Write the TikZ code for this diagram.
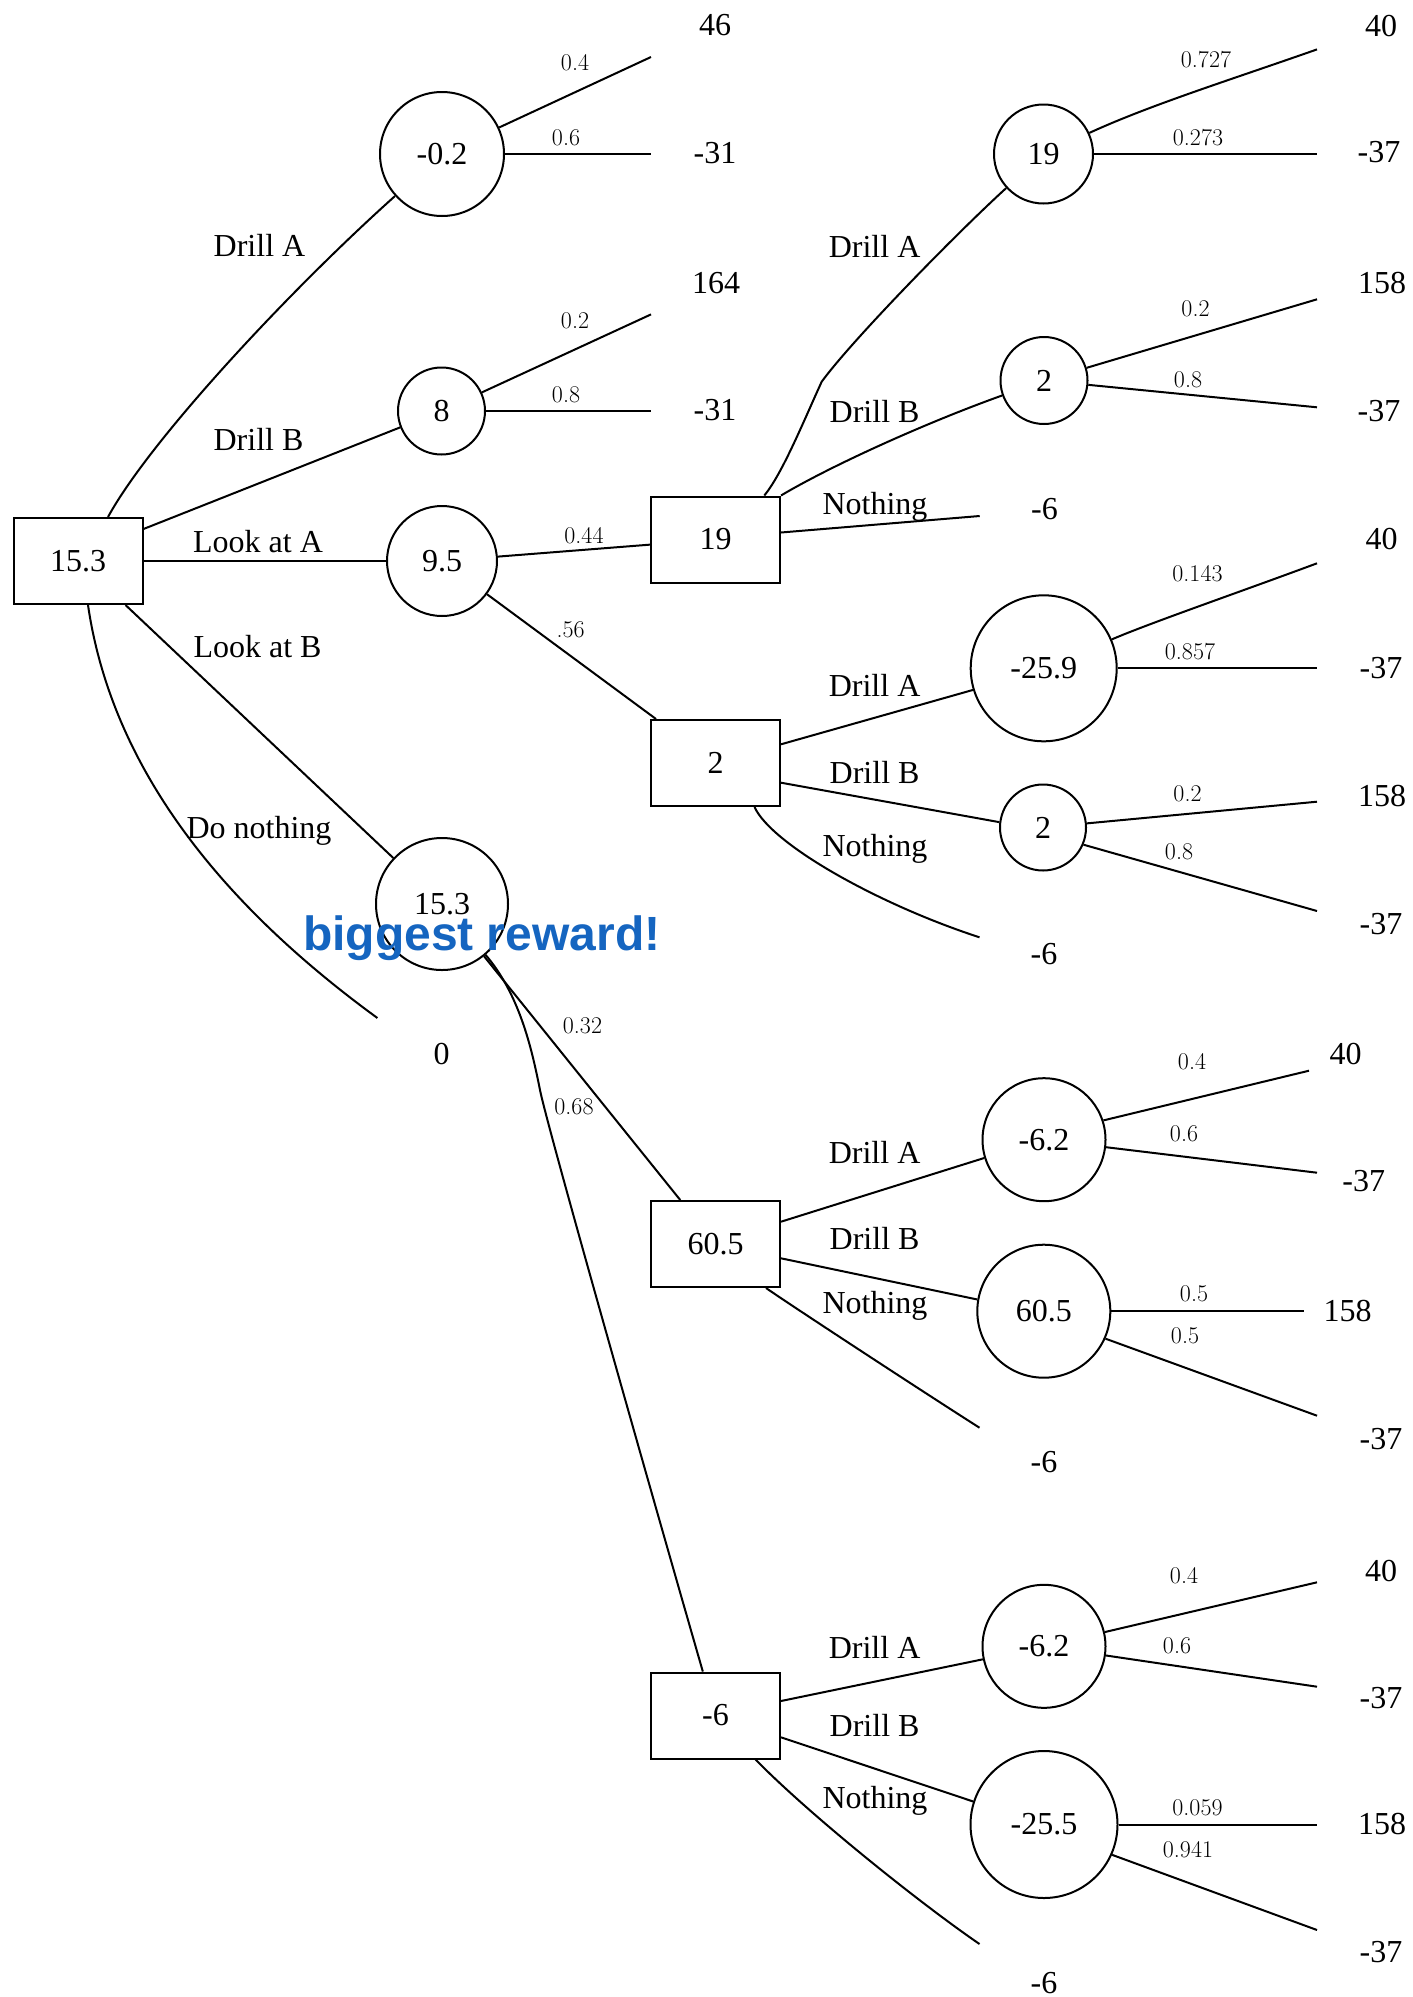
\documentclass[tikz,border=0pt]{standalone}
\usepackage{fontspec}
\setmainfont{Liberation Serif}
\newfontfamily\probfont{Latin Modern Roman}
\newfontfamily\notefont{Liberation Sans}
\definecolor{notecolor}{RGB}{21,101,192}
\begin{document}
\begin{tikzpicture}[x=1pt,y=-1pt,line width=2pt,
  every node/.style={inner sep=0pt},
  txt/.style={font=\fontsize{32}{38}\selectfont},
  decision/.style={txt,draw,rectangle,minimum width=129pt,minimum height=86pt},
  chance/.style={txt,draw,circle,minimum size=#1},
  act/.style={txt,anchor=base},
  val/.style={txt},
  prob/.style={font=\probfont\fontsize{24}{28}\selectfont}]
\useasboundingbox (0,0) rectangle (1413,1997);

% ---------- decision nodes ----------
\node[decision] (root) at (78,561) {15.3};
\node[decision] (b19)  at (715.5,539.5) {19};
\node[decision] (b2)   at (715.5,763) {2};
\node[decision] (b605) at (715.5,1244) {60.5};
\node[decision] (bm6)  at (715.5,1715.5) {-6};

% ---------- chance nodes ----------
\node[chance=124pt] (cA)   at (442,154)      {-0.2};
\node[chance=87pt]  (cB)   at (441.5,411)    {8};
\node[chance=110pt] (cLA)  at (442,561)      {9.5};
\node[chance=132pt] (cLB)  at (442,904)      {15.3};
\node[chance=99pt]  (c19)  at (1043.5,154)   {19};
\node[chance=87pt]  (c2a)  at (1044,380.5)   {2};
\node[chance=146pt] (c259) at (1043.7,668.3) {-25.9};
\node[chance=86pt]  (c2b)  at (1043,827.5)   {2};
\node[chance=123pt] (c62a) at (1044,1139.7)  {-6.2};
\node[chance=133pt] (c605) at (1043.8,1311.2){60.5};
\node[chance=123pt] (c62b) at (1044,1646.3)  {-6.2};
\node[chance=147pt] (c255) at (1044,1824.5)  {-25.5};

% ---------- free ends of outcome branches ----------
\coordinate (eNone) at (377.4,1018);
\coordinate (eA1) at (651,57);      \coordinate (eA2) at (651,154);
\coordinate (eB1) at (651,314.4);   \coordinate (eB2) at (651,411);
\coordinate (e19n) at (979.7,516);
\coordinate (b19bend) at (821.7,381.7);
\coordinate (e19a) at (1317,49.4);  \coordinate (e19b) at (1317,154);
\coordinate (e2a1) at (1317,299.3); \coordinate (e2a2) at (1317,407.3);
\coordinate (e2n) at (979.5,937.3);
\coordinate (e259a) at (1317,563.3);\coordinate (e259b) at (1317,668.3);
\coordinate (e2b1) at (1317,801.7); \coordinate (e2b2) at (1317,911);
\coordinate (lbBend) at (540,1090);
\coordinate (e605n) at (979.5,1427.7);
\coordinate (e62a1) at (1309,1070.7);\coordinate (e62a2) at (1317,1172.7);
\coordinate (e605a) at (1303.5,1311.2);\coordinate (e605b) at (1317,1415.7);
\coordinate (e6n) at (979.5,1944);
\coordinate (e62b1) at (1317,1582.3);\coordinate (e62b2) at (1317,1686.7);
\coordinate (e255a) at (1317,1824.5);\coordinate (e255b) at (1317,1930);

% ---------- first decision ----------
\draw ([xshift=-35.5pt]root.north east) .. controls (150,440) and (290,290) .. (cA);
\draw ([yshift=-12pt]root.north east) -- (cB);
\draw (root) -- (cLA);
\draw ([xshift=-18pt]root.south east) -- (cLB);
\draw ([xshift=10pt]root.south) .. controls (115,790) and (250,925) .. (eNone);

\node[act] at (259.5,256)   {Drill A};
\node[act] at (258.5,450)   {Drill B};
\node[act] at (258,552.4)   {Look at A};
\node[act] at (257.5,657)   {Look at B};
\node[act] at (259,838)     {Do nothing};

% drill A / drill B right away
\draw (cA) -- (eA1);  \draw (cA) -- (eA2);
\draw (cB) -- (eB1);  \draw (cB) -- (eB2);
\node[prob] at (575,63)    {0.4};
\node[prob] at (566,138)   {0.6};
\node[prob] at (575,321)   {0.2};
\node[prob] at (566,394.6) {0.8};
\node[val] at (715,25)   {46};
\node[val] at (715,153)  {-31};
\node[val] at (716,283)  {164};
\node[val] at (715,410)  {-31};
\node[val] at (441.5,1054.3) {0};

% look at A
\draw (cLA) -- (b19);
\draw (cLA) -- (b2);
\node[prob] at (584,535.5) {0.44};
\node[prob] at (570.7,630) {.56};

% look at B
\draw (cLB) -- (b605);
\draw (cLB) .. controls (520,995) and (532,1050) .. (lbBend)
            .. controls (548,1130) and (662,1530) .. (bm6);
\node[prob] at (582.5,1025.6) {0.32};
\node[prob] at (574,1107)     {0.68};

% ---------- decision 19 ----------
\draw ([xshift=-16.7pt]b19.north east) .. controls (782.5,473.6) and (804.9,418.1) .. (b19bend)
      .. controls (851.2,341.2) and (953.8,235.9) .. (c19);
\draw (b19.north east) .. controls (831.6,465.4) and (926.3,422.6) .. (c2a);
\draw ([yshift=7pt]b19.east) -- (e19n);
\node[act] at (874.6,257.8) {Drill A};
\node[act] at (874.6,422)   {Drill B};
\node[act] at (875,514)     {Nothing};
\node[val] at (1044.5,509.5) {-6};

\draw (c19) .. controls (1150,105) and (1230,80) .. (e19a);
\draw (c19) -- (e19b);
\node[prob] at (1206,60)  {0.727};
\node[prob] at (1198,138) {0.273};
\node[val] at (1381,26.3) {40};
\node[val] at (1379,152)  {-37};

\draw (c2a) -- (e2a1);
\draw (c2a) -- (e2a2);
\node[prob] at (1195.5,308.4) {0.2};
\node[prob] at (1188,379.6)   {0.8};
\node[val] at (1382,283) {158};
\node[val] at (1379,411) {-37};

% ---------- decision 2 ----------
\draw ([yshift=18.7pt]b2.east) -- (c259.197);
\draw ([yshift=-19.7pt]b2.east) -- (c2b.173);
\draw ([xshift=39pt]b2.south) .. controls (772,845) and (880,905) .. (e2n);
\node[act] at (874.6,696.7) {Drill A};
\node[act] at (874.6,783.3) {Drill B};
\node[act] at (875,856.7)   {Nothing};
\node[val] at (1044,954) {-6};

\draw (c259.23) .. controls (1150,623) and (1237,593) .. (e259a);
\draw (c259) -- (e259b);
\node[prob] at (1197.5,573.3) {0.143};
\node[prob] at (1190,651.7)   {0.857};
\node[val] at (1381.5,539.2) {40};
\node[val] at (1381,668.3)   {-37};

\draw (c2b) -- (e2b1);
\draw (c2b.-23) -- (e2b2);
\node[prob] at (1187.5,794.2) {0.2};
\node[prob] at (1179,851.3)   {0.8};
\node[val] at (1382,795.8) {158};
\node[val] at (1381,924.2) {-37};

% ---------- decision 60.5 ----------
\draw ([yshift=22.3pt]b605.east) -- (c62a.197);
\draw ([yshift=-14.3pt]b605.east) -- (c605.170);
\draw ([xshift=50.5pt]b605.south) .. controls (798,1310) and (928.8,1395.5) .. (e605n);
\node[act] at (874.6,1163.3) {Drill A};
\node[act] at (874.6,1249.3) {Drill B};
\node[act] at (875,1313.3)   {Nothing};
\node[val] at (1044,1462.5) {-6};

\draw (c62a.18) -- (e62a1);
\draw (c62a) -- (e62a2);
\node[prob] at (1192,1061.7) {0.4};
\node[prob] at (1184,1133.3) {0.6};
\node[val] at (1345.6,1054.2) {40};
\node[val] at (1363.7,1181.3) {-37};

\draw (c605) -- (e605a);
\draw (c605.-24) -- (e605b);
\node[prob] at (1194,1294.2) {0.5};
\node[prob] at (1185,1335.8) {0.5};
\node[val] at (1347.5,1310.8) {158};
\node[val] at (1381,1439.2)   {-37};

% ---------- decision -6 ----------
\draw ([yshift=14.5pt]bm6.east) -- (c62b.192);
\draw ([yshift=-21.8pt]bm6.east) -- (c255.162);
\draw ([xshift=40pt]bm6.south) .. controls (810.7,1815.9) and (921.75,1904.5) .. (e6n);
\node[act] at (874.6,1658.3) {Drill A};
\node[act] at (874.6,1736.7) {Drill B};
\node[act] at (875,1808.3)   {Nothing};
\node[val] at (1044,1983) {-6};

\draw (c62b) -- (e62b1);
\draw (c62b) -- (e62b2);
\node[prob] at (1184,1575.8) {0.4};
\node[prob] at (1177,1645.5) {0.6};
\node[val] at (1381,1570.5) {40};
\node[val] at (1381,1698.3) {-37};

\draw (c255) -- (e255a);
\draw (c255.-24) -- (e255b);
\node[prob] at (1197.5,1807.5) {0.059};
\node[prob] at (1188,1850)     {0.941};
\node[val] at (1382,1824.2) {158};
\node[val] at (1381,1952.5) {-37};

% ---------- annotation ----------
\node[anchor=base west, text=notecolor, font=\notefont\bfseries\fontsize{48}{54}\selectfont]
  (note) at (302,950) {biggest reward!};
\end{tikzpicture}
\end{document}
